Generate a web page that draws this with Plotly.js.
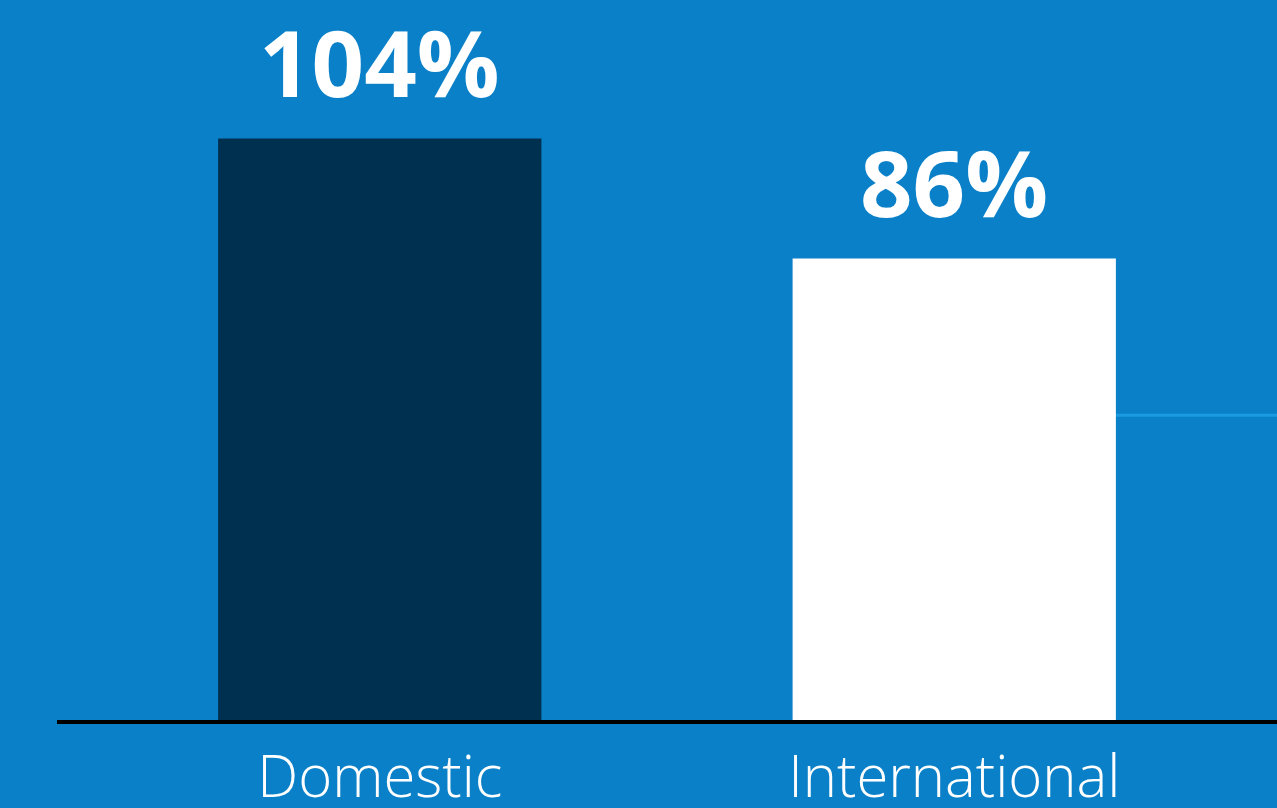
<!DOCTYPE html>
<html>
<head>
<meta charset="utf-8">
<script src="https://cdn.plot.ly/plotly-3.0.1.min.js"></script>
<style>html,body{margin:0;padding:0;background:#0a80c8;}#chart{width:1277px;height:808px;}</style>
</head>
<body>
<div id="chart"></div>
<script>
const categories = ["Domestic", "International"];
const values = [104, 86];
const valueLabels = ["104%", "86%"];
const barColors = ["#00304f", "#ffffff"];
const referenceValue = 62.5;

const trace = {
  type: "bar",
  x: categories,
  y: values,
  marker: {color: barColors, line: {width: 0}},
  width: 0.5627,
  hoverinfo: "skip"
};

const annotations = categories.map((c, i) => ({
  x: c, y: values[i], xref: "x", yref: "y",
  text: "<b>" + valueLabels[i] + "</b>",
  showarrow: false, yanchor: "bottom", yshift: 12,
  font: {family: "Open Sans", size: 92, color: "#ffffff"}
}));

const layout = {
  width: 1277, height: 808,
  margin: {l: 57, r: 0, t: 0, b: 88, pad: 0},
  paper_bgcolor: "#0a80c8",
  plot_bgcolor: "#0a80c8",
  showlegend: false,
  xaxis: {
    type: "category",
    range: [-0.5618, 1.5618],
    showline: true, linecolor: "#000000", linewidth: 4,
    showgrid: false, zeroline: false,
    ticks: "outside", ticklen: 3, tickcolor: "rgba(0,0,0,0)",
    tickfont: {family: "Open Sans", size: 58, color: "#ffffff", weight: 300}
  },
  yaxis: {
    range: [16.77, 124.77],
    visible: false, showgrid: false, zeroline: false, fixedrange: true
  },
  shapes: [{
    type: "line", xref: "paper", yref: "y",
    x0: (1.2814 + 0.5618) / 2.1236, x1: 1, y0: referenceValue, y1: referenceValue,
    line: {color: "#1a9ae0", width: 3}, layer: "below"
  }],
  annotations: annotations
};

Plotly.newPlot("chart", [trace], layout, {displayModeBar: false, staticPlot: true});
</script>
</body>
</html>
